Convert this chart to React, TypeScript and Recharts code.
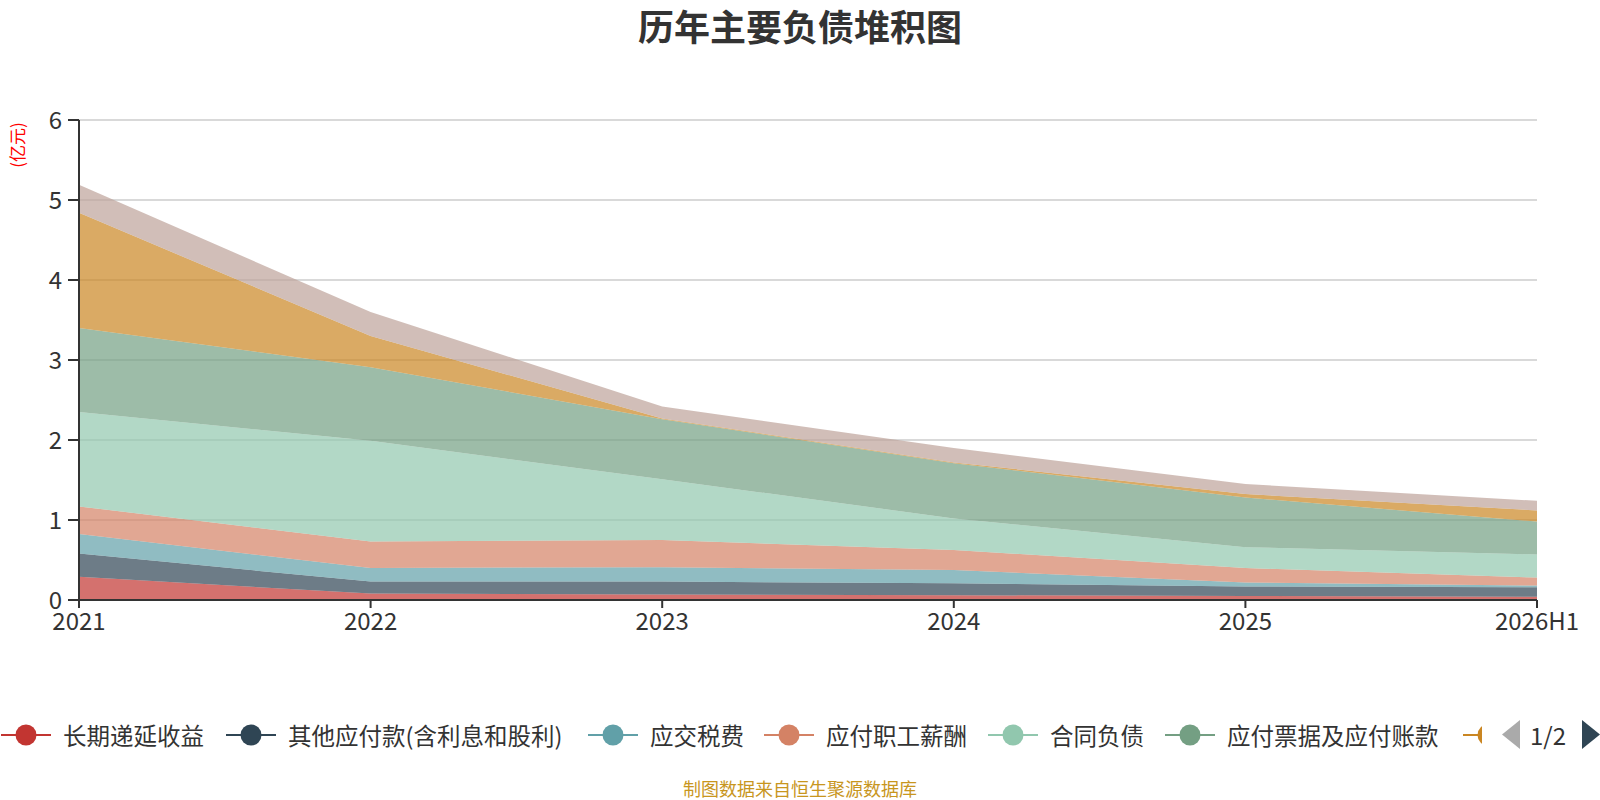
// @ts-nocheck
import { AreaChart, Area, XAxis, YAxis, CartesianGrid } from 'recharts'

const years = ['2021', '2022', '2023', '2024', '2025', '2026H1']

// 各项负债(亿元)
const deferredIncome = [0.29, 0.08, 0.07, 0.06, 0.05, 0.04]
const otherPayables = [0.29, 0.15, 0.16, 0.15, 0.12, 0.12]
const taxesPayable = [0.245, 0.17, 0.18, 0.165, 0.05, 0.02]
const payroll = [0.345, 0.33, 0.34, 0.25, 0.18, 0.1]
const contractLiab = [1.18, 1.26, 0.76, 0.395, 0.26, 0.29]
const notesPayable = [1.05, 0.92, 0.75, 0.69, 0.62, 0.41]
const shortLoans = [1.44, 0.39, 0.01, 0.01, 0.045, 0.14]
const otherLiab = [0.35, 0.3, 0.15, 0.18, 0.125, 0.12]

const yTicks = [0, 1, 2, 3, 4, 5, 6]

const SERIES = [
  { key: 'a', name: '长期递延收益', values: deferredIncome, color: '#c23531' },
  { key: 'b', name: '其他应付款(含利息和股利)', values: otherPayables, color: '#2f4554' },
  { key: 'c', name: '应交税费', values: taxesPayable, color: '#61a0a8' },
  { key: 'd', name: '应付职工薪酬', values: payroll, color: '#d48265' },
  { key: 'e', name: '合同负债', values: contractLiab, color: '#91c7ae' },
  { key: 'f', name: '应付票据及应付账款', values: notesPayable, color: '#749f83' },
  { key: 'g', name: '短期借款', values: shortLoans, color: '#ca8622' },
  { key: 'h', name: '其他流动负债', values: otherLiab, color: '#bda29a' },
]

const data = years.map((year, i) => {
  const row: any = { year }
  SERIES.forEach(s => { row[s.key] = s.values[i] })
  return row
})

const FONT = '"Noto Sans CJK SC", "Noto Sans", sans-serif'
const legendX = [1, 226, 588, 764, 988, 1165, 1463]

export default function App() {
  return (
    <div style={{ position: 'absolute', left: 0, top: 0, width: 1600, height: 800, background: '#fff', fontFamily: FONT, overflow: 'hidden' }}>
      <div style={{ position: 'absolute', left: 0, width: 1600, top: 4, textAlign: 'center', fontSize: 36, fontWeight: 'bold', color: '#333', lineHeight: '42px' }}>
        历年主要负债堆积图
      </div>
      <div style={{ position: 'absolute', left: 16, top: 145, transform: 'translate(-50%, -50%) rotate(-90deg)', color: '#ff0000', fontSize: 17, whiteSpace: 'nowrap' }}>
        (亿元)
      </div>
      <AreaChart width={1600} height={800} data={data} margin={{ top: 120, right: 63, left: 19, bottom: 170 }}>
        <CartesianGrid vertical={false} stroke="#ccc" strokeWidth={1.5} />
        <XAxis dataKey="year" interval={0} height={30} tickSize={8} tickMargin={5}
          axisLine={{ stroke: '#333', strokeWidth: 2 }} tickLine={{ stroke: '#333', strokeWidth: 2 }}
          tick={{ fill: '#333', fontSize: 24, fontFamily: FONT }} />
        <YAxis domain={[0, 6]} ticks={yTicks} width={60} tickSize={11} tickMargin={6}
          axisLine={{ stroke: '#333', strokeWidth: 2 }} tickLine={{ stroke: '#333', strokeWidth: 2 }}
          tick={{ fill: '#333', fontSize: 24, fontFamily: FONT }} />
        {SERIES.map(s => (
          <Area key={s.key} type="linear" dataKey={s.key} name={s.name} stackId="1"
            stroke="none" fill={s.color} fillOpacity={0.7} isAnimationActive={false} dot={false} activeDot={false} />
        ))}
      </AreaChart>
      {/* legend page 1: the 7th item is cut off by the pager, only its icon edge shows */}
      <div style={{ position: 'absolute', left: 0, top: 715, width: 1482, height: 40, overflow: 'hidden' }}>
        {SERIES.slice(0, 7).map((s, i) => (
          <div key={s.key} style={{ position: 'absolute', left: legendX[i], top: 0, height: 40, whiteSpace: 'nowrap' }}>
            <svg width={52} height={40} style={{ position: 'absolute', left: 0, top: 0 }}>
              <line x1={0} y1={20} x2={50} y2={20} stroke={s.color} strokeWidth={2} />
              <circle cx={25} cy={20} r={10.5} fill={s.color} />
            </svg>
            {i < 6 && (
              <span style={{ position: 'absolute', left: 62, top: 0, lineHeight: '40px', fontSize: 23.5, color: '#333' }}>{s.name}</span>
            )}
          </div>
        ))}
      </div>
      <svg width={100} height={60} style={{ position: 'absolute', left: 1500, top: 705 }}>
        <polygon points="20,15 20,44 2,29.5" fill="#aaa" />
        <polygon points="82,15 82,44 100,29.5" fill="#2f4554" />
      </svg>
      <div style={{ position: 'absolute', left: 1530, top: 715, width: 44, lineHeight: '40px', fontSize: 24, color: '#333', whiteSpace: 'nowrap' }}>1/2</div>
      <div style={{ position: 'absolute', left: 0, width: 1600, top: 776, textAlign: 'center', fontSize: 18, color: '#c8961e', lineHeight: '24px' }}>
        制图数据来自恒生聚源数据库
      </div>
    </div>
  )
}
